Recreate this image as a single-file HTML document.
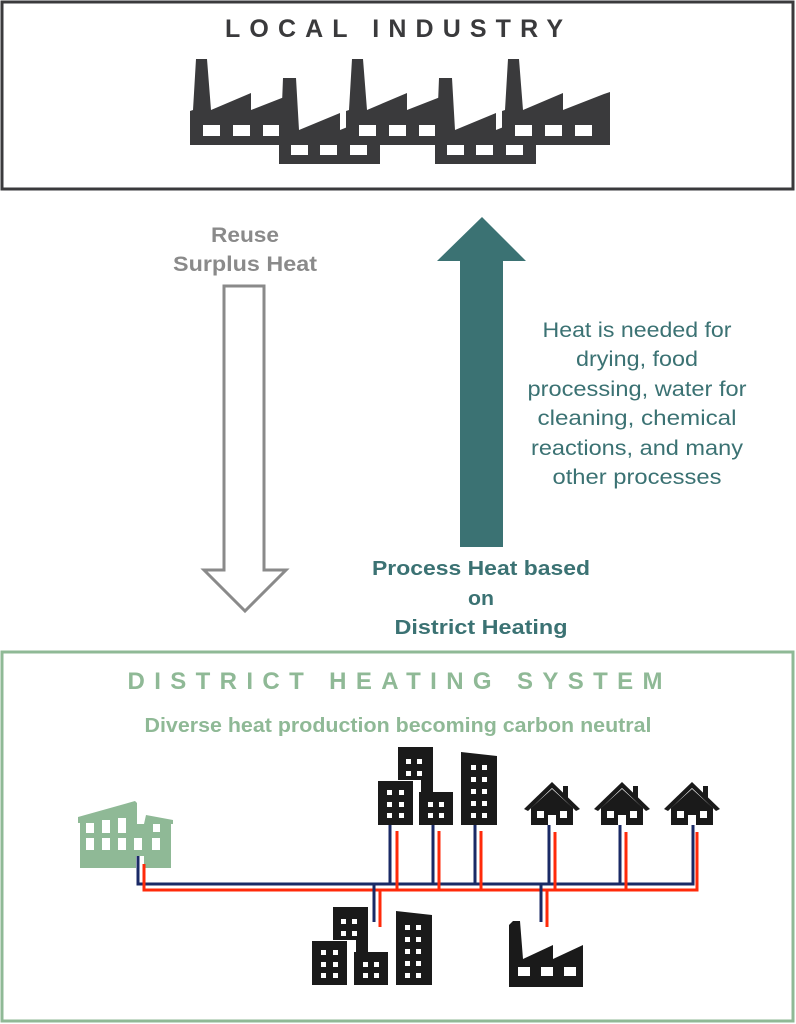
<!DOCTYPE html>
<html><head><meta charset="utf-8"><style>
html,body{margin:0;padding:0;background:#fff;}
svg{display:block;font-family:"Liberation Sans",sans-serif;}
</style></head><body>
<svg width="796" height="1024" viewBox="0 0 796 1024" xmlns="http://www.w3.org/2000/svg">
<rect x="2" y="2" width="791" height="187" fill="#fff" stroke="#3a3a3c" stroke-width="3"/>
<text x="394" y="37" text-anchor="middle" font-size="25" font-weight="bold" fill="#3a3a3c" textLength="338" lengthAdjust="spacing">LOCAL INDUSTRY</text>
<defs>
<g id="fa">
<polygon points="190,145 190,111 193,110 196,59 207,59 211,110 251,93 251,110 292,94 292,145" fill="#3a3a3c"/>
<rect x="203" y="125" width="17" height="11" fill="#fff"/>
<rect x="233" y="125" width="17" height="11" fill="#fff"/>
<rect x="263" y="125" width="16" height="11" fill="#fff"/>
</g>
<g id="fb">
<polygon points="279,164 279,130 281,130 283,78 296,78 299,130 340,113 340,130 380,114 380,164" fill="#3a3a3c"/>
<rect x="291" y="145" width="17" height="10" fill="#fff"/>
<rect x="320" y="145" width="17" height="10" fill="#fff"/>
<rect x="350" y="145" width="17" height="10" fill="#fff"/>
</g>
</defs>
<use href="#fa"/>
<use href="#fb"/>
<use href="#fa" x="156"/>
<use href="#fb" x="156"/>
<use href="#fa" x="312"/>
<polygon points="604,94 610,92 610,145 600,145" fill="#3a3a3c"/>
<rect x="575" y="125" width="17" height="11" fill="#fff"/>

<!-- gray arrow -->
<polygon points="224,286 264,286 264,570 286,570 245,611 204,570 224,570" fill="#fff" stroke="#8a8a8a" stroke-width="3"/>
<text x="245" y="242" text-anchor="middle" font-size="21" font-weight="bold" fill="#8a8a8a" textLength="68" lengthAdjust="spacingAndGlyphs">Reuse</text>
<text x="245" y="271" text-anchor="middle" font-size="21" font-weight="bold" fill="#8a8a8a" textLength="144" lengthAdjust="spacingAndGlyphs">Surplus Heat</text>

<!-- teal arrow -->
<polygon points="482,217 526,261 503,261 503,547 460,547 460,261 437,261" fill="#3b7273"/>
<g font-size="21" fill="#3b7273" text-anchor="middle">
<text x="637" y="337" textLength="189" lengthAdjust="spacingAndGlyphs">Heat is needed for</text>
<text x="637" y="366" textLength="122" lengthAdjust="spacingAndGlyphs">drying, food</text>
<text x="637" y="396" textLength="219" lengthAdjust="spacingAndGlyphs">processing, water for</text>
<text x="637" y="425" textLength="199" lengthAdjust="spacingAndGlyphs">cleaning, chemical</text>
<text x="637" y="455" textLength="212" lengthAdjust="spacingAndGlyphs">reactions, and many</text>
<text x="637" y="484" textLength="169" lengthAdjust="spacingAndGlyphs">other processes</text>
</g>
<g font-size="20" font-weight="bold" fill="#3b7273" text-anchor="middle">
<text x="481" y="575" textLength="218" lengthAdjust="spacingAndGlyphs">Process Heat based</text>
<text x="481" y="605" textLength="26" lengthAdjust="spacingAndGlyphs">on</text>
<text x="481" y="634" textLength="173" lengthAdjust="spacingAndGlyphs">District Heating</text>
</g>

<!-- bottom box -->
<rect x="2" y="652" width="791" height="369" fill="#fff" stroke="#8fb996" stroke-width="3"/>
<text x="395" y="689" text-anchor="middle" font-size="24" font-weight="bold" fill="#8fb996" textLength="535" lengthAdjust="spacing">DISTRICT HEATING SYSTEM</text>
<text x="398" y="732" text-anchor="middle" font-size="20" font-weight="bold" fill="#8fb996" textLength="507" lengthAdjust="spacingAndGlyphs">Diverse heat production becoming carbon neutral</text>

<!-- green factory -->
<g fill="#8fb996">
<polygon points="78,817 78,823 80,823 80,868 171,868 171,824 173,824 173,820 146,815 144,824 137,824 137,803 135,801"/>
</g>
<g fill="#fff">
<rect x="86" y="823" width="8" height="10"/><rect x="102" y="820" width="8" height="13"/><rect x="118" y="818" width="8" height="15"/>
<rect x="86" y="838" width="8" height="12"/><rect x="102" y="838" width="8" height="12"/><rect x="118" y="838" width="8" height="12"/><rect x="134" y="838" width="8" height="12"/><rect x="152" y="838" width="8" height="12"/>
<rect x="153" y="824" width="7" height="8"/>
<rect x="136" y="856" width="8" height="12"/>
</g>

<!-- pipes -->
<g fill="none" stroke-width="3">
<path d="M138,856 V884 H693 V825" stroke="#1a2a66"/>
<path d="M144,864 V890 H697 V832" stroke="#ff2a0a"/>
<g stroke="#1a2a66">
<path d="M390,825 V884 M433,825 V884 M475,825 V884 M549,825 V884 M620,825 V884"/>
<path d="M374,884 V922 M541,884 V922"/>
</g>
<g stroke="#ff2a0a">
<path d="M397,831 V890 M439,831 V890 M481,831 V890 M555,832 V890 M626,832 V890"/>
<path d="M380,890 V927 M547,890 V927"/>
</g>
</g>

<!-- top building cluster -->
<g fill="#1a1a1a">
<rect x="398" y="747" width="35" height="33"/>
<rect x="378" y="781" width="35" height="44"/>
<rect x="419" y="792" width="34" height="33"/>
<polygon points="461,752 497,756 497,825 461,825"/>
<rect x="421" y="779" width="12" height="13"/>
</g>
<g fill="#fff">
<rect x="406" y="759" width="5" height="5"/><rect x="417" y="759" width="5" height="5"/><rect x="406" y="771" width="5" height="5"/><rect x="417" y="771" width="5" height="5"/>
<rect x="387" y="790" width="5" height="5"/><rect x="399" y="790" width="5" height="5"/><rect x="387" y="802" width="5" height="5"/><rect x="399" y="802" width="5" height="5"/><rect x="387" y="813" width="5" height="5"/><rect x="399" y="813" width="5" height="5"/>
<rect x="428" y="802" width="5" height="5"/><rect x="439" y="802" width="5" height="5"/><rect x="428" y="813" width="5" height="5"/><rect x="439" y="813" width="5" height="5"/>
<rect x="471" y="765" width="5" height="5"/><rect x="482" y="765" width="5" height="5"/><rect x="471" y="777" width="5" height="5"/><rect x="482" y="777" width="5" height="5"/><rect x="471" y="789" width="5" height="5"/><rect x="482" y="789" width="5" height="5"/><rect x="471" y="801" width="5" height="5"/><rect x="482" y="801" width="5" height="5"/><rect x="471" y="813" width="5" height="5"/><rect x="482" y="813" width="5" height="5"/>
</g>

<!-- bottom building cluster -->
<g fill="#1a1a1a">
<rect x="333" y="907" width="35" height="33"/>
<rect x="312" y="941" width="35" height="44"/>
<rect x="354" y="952" width="34" height="33"/>
<polygon points="396,911 432,915 432,985 396,985"/>
<rect x="356" y="939" width="12" height="13"/>
</g>
<g fill="#fff">
<rect x="341" y="919" width="5" height="5"/><rect x="352" y="919" width="5" height="5"/><rect x="341" y="931" width="5" height="5"/><rect x="352" y="931" width="5" height="5"/>
<rect x="321" y="950" width="5" height="5"/><rect x="333" y="950" width="5" height="5"/><rect x="321" y="962" width="5" height="5"/><rect x="333" y="962" width="5" height="5"/><rect x="321" y="973" width="5" height="5"/><rect x="333" y="973" width="5" height="5"/>
<rect x="363" y="962" width="5" height="5"/><rect x="374" y="962" width="5" height="5"/><rect x="363" y="973" width="5" height="5"/><rect x="374" y="973" width="5" height="5"/>
<rect x="405" y="925" width="5" height="5"/><rect x="416" y="925" width="5" height="5"/><rect x="405" y="937" width="5" height="5"/><rect x="416" y="937" width="5" height="5"/><rect x="405" y="949" width="5" height="5"/><rect x="416" y="949" width="5" height="5"/><rect x="405" y="961" width="5" height="5"/><rect x="416" y="961" width="5" height="5"/><rect x="405" y="973" width="5" height="5"/><rect x="416" y="973" width="5" height="5"/>
</g>

<!-- houses -->
<defs>
<g id="house">
<polygon points="-28,10 0,-17 28,10 24,12 0,-11 -24,12" fill="#1a1a1a"/>
<rect x="11" y="-13" width="5" height="12" fill="#1a1a1a"/>
<polygon points="-21,9 0,-10 21,9 21,26 -21,26" fill="#1a1a1a"/>
<rect x="-15" y="12" width="7" height="7" fill="#fff"/>
<rect x="8" y="12" width="7" height="7" fill="#fff"/>
<rect x="-4" y="16" width="8" height="10" fill="#fff"/>
</g>
</defs>
<use href="#house" x="552" y="799"/>
<use href="#house" x="622" y="799"/>
<use href="#house" x="692" y="799"/>

<!-- small factory -->
<polygon points="509,987 509,925 513,921 520,921 523,959 553,945 553,959 583,945 583,987" fill="#1a1a1a"/>
<rect x="518" y="967" width="12" height="9" fill="#fff"/>
<rect x="541" y="967" width="12" height="9" fill="#fff"/>
<rect x="564" y="967" width="12" height="9" fill="#fff"/>
</svg>
</body></html>
